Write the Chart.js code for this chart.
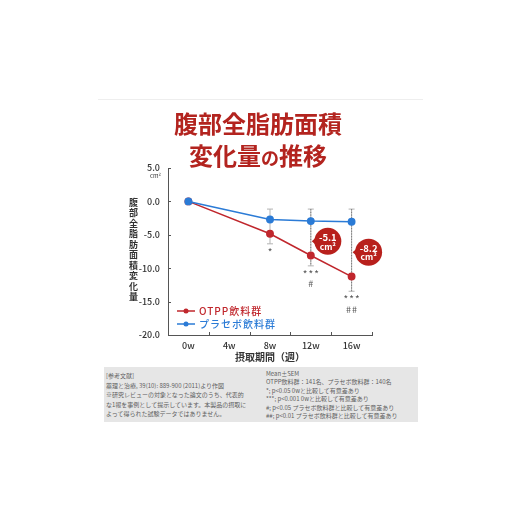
<!DOCTYPE html>
<html>
<head>
<meta charset="utf-8">
<script src="https://cdn.jsdelivr.net/npm/chart.js@4.4.0/dist/chart.umd.min.js"></script>
<style>
  body { margin: 0; background: #fff; font-family: "Noto Sans CJK JP", "Noto Sans", sans-serif; }
  #wrap { position: relative; width: 520px; height: 520px; overflow: hidden; }
  #grafico { position: absolute; left: 0; top: 0; }
  .abs { position: absolute; }
  #rule { left: 98px; top: 99px; width: 325px; height: 1px; background: #eeeeee; }
  #titulo { left: 0; top: 107px; width: 516px; text-align: center; color: #b3241f; font-size: 24px; line-height: 32px; font-weight: 700; }
  #titulo .no { font-size: 18px; }
  #ytitle { left: 128px; top: 198px; writing-mode: vertical-rl; font-size: 9px; font-weight: 700; color: #333; letter-spacing: 1.5px; line-height: 11px; }
  #unidad { left: 150px; top: 171px; font-size: 6px; color: #333; }
  #nota { left: 104px; top: 367px; width: 314px; height: 55px; background: #e6e6e6; }
  .col { position: absolute; font-size: 6px; color: #5e5e5e; white-space: nowrap; }
  #izq { left: 2px; top: 4px; line-height: 9.5px; }
  #der { left: 162px; top: 3px; line-height: 8.4px; }
</style>
</head>
<body>
<div id="wrap">
  <canvas id="grafico" width="520" height="520"></canvas>
  <div id="rule" class="abs"></div>
  <div id="titulo" class="abs">腹部全脂肪面積<br>変化量<span class="no">の</span>推移</div>
  <div id="ytitle" class="abs">腹部全脂肪面積変化量</div>
  <div id="unidad" class="abs">cm²</div>
  <div id="nota" class="abs">
    <div id="izq" class="col">[参考文献]<br>薬理と治療, 39(10): 889-900 (2011)より作図<br>※研究レビューの対象となった論文のうち、代表的<br>な1報を事例として提示しています。本製品の摂取に<br>よって得られた試験データではありません。</div>
    <div id="der" class="col">Mean±SEM<br>OTPP飲料群：141名、プラセボ飲料群：140名<br>*; p&lt;0.05 0wと比較して有意差あり<br>***; p&lt;0.001 0wと比較して有意差あり<br>#; p&lt;0.05 プラセボ飲料群と比較して有意差あり<br>##; p&lt;0.01 プラセボ飲料群と比較して有意差あり</div>
  </div>
</div>
<script>
var semanas = ['0w', '4w', '8w', '12w', '16w'];
var otpp = [0, null, -4.85, -8.1, -11.25];
var placebo = [0, null, -2.7, -2.95, -3.05];
var otppSem = [0, null, 1.5, 1.55, 2.2];
var placeboSem = [0, null, 1.55, 1.8, 1.9];
var otppSig = [[], [], ['*'], ['***', '#'], ['***', '##']];
var diferencias = [null, null, null, '-5.1', '-8.2'];
var yTicks = [5, 0, -5, -10, -15, -20];

var rojo = '#c0272d';
var azul = '#2b7bd6';
var fuente = '"Noto Sans CJK JP", "Noto Sans", sans-serif';

// barras de error, lineas punteadas, marcas y globos
var extras = {
    id: 'extras',
    beforeDatasetsDraw: function(chart) {
        var ctx = chart.ctx;
        var x = chart.scales.x, y = chart.scales.y;
        ctx.save();
        ctx.strokeStyle = '#b3b3b3';
        ctx.lineWidth = 1;
        for (var i = 0; i < semanas.length; i++) {
            if (otpp[i] === null || !otppSem[i]) continue;
            var px = x.getPixelForValue(i);
            var top = y.getPixelForValue(placebo[i] + placeboSem[i]);
            var bot = y.getPixelForValue(otpp[i] - otppSem[i]);
            ctx.beginPath();
            ctx.moveTo(px, top); ctx.lineTo(px, bot);
            ctx.moveTo(px - 3, top); ctx.lineTo(px + 3, top);
            ctx.moveTo(px - 3, bot); ctx.lineTo(px + 3, bot);
            ctx.stroke();
        }
        ctx.strokeStyle = '#7a7a7a';
        ctx.setLineDash([1.2, 1.5]);
        for (var j = 0; j < semanas.length; j++) {
            if (!diferencias[j]) continue;
            var qx = x.getPixelForValue(j);
            ctx.beginPath();
            ctx.moveTo(qx, y.getPixelForValue(placebo[j] + placeboSem[j]));
            ctx.lineTo(qx, y.getPixelForValue(otpp[j] - otppSem[j]));
            ctx.stroke();
        }
        ctx.restore();
    },
    afterDraw: function(chart) {
        var ctx = chart.ctx;
        var x = chart.scales.x, y = chart.scales.y;
        var area = chart.chartArea;
        ctx.save();
        // marcas de los ejes
        ctx.strokeStyle = '#555';
        ctx.lineWidth = 1;
        ctx.beginPath();
        for (var k = 0; k < semanas.length; k++) {
            var bx = Math.round(x.getPixelForValue(k) + (x.getPixelForValue(1) - x.getPixelForValue(0)) / 2) + 0.5;
            ctx.moveTo(bx, area.bottom); ctx.lineTo(bx, area.bottom - 3);
        }
        yTicks.forEach(function(v) {
            var by = Math.round(y.getPixelForValue(v)) + 0.5;
            ctx.moveTo(area.left, by); ctx.lineTo(area.left + 3, by);
        });
        ctx.stroke();

        // significancia
        ctx.fillStyle = '#555';
        ctx.textAlign = 'center';
        ctx.textBaseline = 'middle';
        for (var i = 0; i < semanas.length; i++) {
            var marcas = otppSig[i];
            if (!marcas.length) continue;
            var px = x.getPixelForValue(i);
            var base = y.getPixelForValue(otpp[i] - otppSem[i]);
            marcas.forEach(function(m, n) {
                ctx.font = (m.indexOf('*') >= 0 ? '10px ' : '9px ') + fuente;
                ctx.letterSpacing = '1px';
                ctx.fillText(m, px + 0.5, base + 8 + n * 10);
            });
        }
        ctx.letterSpacing = '0px';

        // globos de diferencia
        for (var j = 0; j < semanas.length; j++) {
            if (!diferencias[j]) continue;
            var qx = x.getPixelForValue(j);
            var cy = (y.getPixelForValue(placebo[j]) + y.getPixelForValue(otpp[j])) / 2 + 3;
            var cx = qx + 17;
            var r = 13.5;
            ctx.fillStyle = '#b8201c';
            ctx.beginPath();
            ctx.arc(cx, cy, r, 0, Math.PI * 2);
            ctx.fill();
            ctx.beginPath();
            ctx.moveTo(cx - r + 2, cy - 4);
            ctx.lineTo(qx + 1, cy);
            ctx.lineTo(cx - r + 2, cy + 4);
            ctx.fill();
            ctx.fillStyle = '#fff';
            ctx.font = '700 9.5px ' + fuente;
            ctx.fillText(diferencias[j], cx, cy - 4);
            ctx.font = '700 8.5px ' + fuente;
            ctx.fillText('cm²', cx, cy + 5);
        }

        // leyenda
        var series = [[rojo, 'OTPP飲料群'], [azul, 'プラセボ飲料群']];
        series.forEach(function(s, n) {
            var ly = area.bottom - 24 + n * 13;
            var lx = area.left + 9;
            ctx.strokeStyle = s[0];
            ctx.fillStyle = s[0];
            ctx.lineWidth = 1.5;
            ctx.beginPath();
            ctx.moveTo(lx, ly); ctx.lineTo(lx + 18, ly);
            ctx.stroke();
            ctx.beginPath();
            ctx.arc(lx + 9, ly, 2.5, 0, Math.PI * 2);
            ctx.fill();
            ctx.textAlign = 'left';
            ctx.font = '500 10px ' + fuente;
            ctx.letterSpacing = '1px';
            ctx.fillText(s[1], lx + 22, ly);
        });
        ctx.restore();
    }
};

var ctx = document.getElementById('grafico').getContext('2d');
window.myChart = new Chart(ctx, {
    type: 'line',
    data: {
        labels: semanas,
        datasets: [{
            label: 'プラセボ飲料群',
            data: placebo,
            borderColor: azul,
            backgroundColor: azul,
            borderWidth: 1.5,
            pointRadius: 3.2,
            spanGaps: true,
            tension: 0
        }, {
            label: 'OTPP飲料群',
            data: otpp,
            borderColor: rojo,
            backgroundColor: rojo,
            borderWidth: 1.5,
            pointRadius: 3.2,
            spanGaps: true,
            tension: 0
        }]
    },
    options: {
        responsive: false,
        animation: false,
        layout: { padding: { left: 0, top: 168, right: 148, bottom: 153 } },
        plugins: {
            legend: { display: false },
            tooltip: { enabled: false }
        },
        scales: {
            x: {
                offset: true,
                grid: { display: false, drawTicks: false },
                border: { color: '#555', width: 1 },
                ticks: { color: '#333', padding: 5, font: { family: fuente, size: 9, weight: '500' } },
                title: { display: true, text: '摂取期間（週）', color: '#333', font: { family: fuente, size: 10, weight: '700' } },
                afterFit: function(s) { s.height = 32; }
            },
            y: {
                min: -20,
                max: 5,
                grid: { display: false, drawTicks: false },
                border: { color: '#555', width: 1 },
                ticks: {
                    stepSize: 5,
                    padding: 8,
                    color: '#333',
                    font: { family: fuente, size: 9, weight: '500' },
                    callback: function(v) { return v.toFixed(1); }
                },
                afterFit: function(s) { s.width = 168; }
            }
        }
    },
    plugins: [extras]
});
</script>
</body>
</html>
